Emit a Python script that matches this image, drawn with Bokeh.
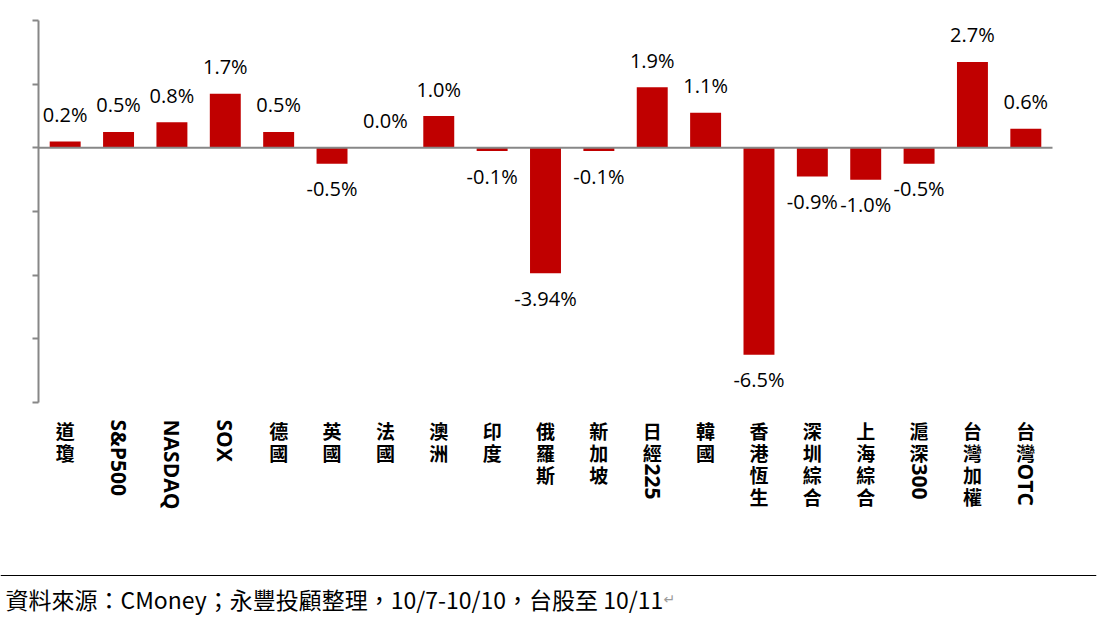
import math
from bokeh.plotting import figure
from bokeh.models import ColumnDataSource, FixedTicker, Range1d, Span
from bokeh.core.properties import value
from bokeh.embed import file_html
from bokeh.resources import INLINE

# Weekly index performance (%)
categories = ["道瓊", "S&P500", "NASDAQ", "SOX", "德國", "英國", "法國", "澳洲", "印度",
              "俄羅斯", "新加坡", "日經225", "韓國", "香港恆生", "深圳綜合", "上海綜合",
              "滬深300", "台灣加權", "台灣OTC"]
weekly_change = [0.2, 0.5, 0.8, 1.7, 0.5, -0.5, 0.0, 1.0, -0.1,
                 -3.94, -0.1, 1.9, 1.1, -6.5, -0.9, -1.0,
                 -0.5, 2.7, 0.6]
y_ticks = [-8, -6, -4, -2, 0, 2, 4]
source_note = "資料來源：CMoney；永豐投顧整理，10/7-10/10，台股至 10/11"

# ---- page geometry (pixels) ----
W, H = 1106, 629
RIGHT_PAD = 10
frame_w = W - RIGHT_PAD
left_px, right_px = 38, 1052      # category band extent
top_px, bottom_px = 20, 402       # value axis extent

n = len(categories)
ux = (right_px - left_px) / n
x_start = -0.5 - left_px / ux
x_end = x_start + frame_w / ux

ymax, ymin = max(y_ticks), min(y_ticks)
uy = (bottom_px - top_px) / (ymax - ymin)
y_end = ymax + top_px / uy
y_start = y_end - H / uy


def px_x(px):
    return x_start + px / ux


def px_y(py):
    return y_end - py / uy


RED = "#C00000"
GREY = "#878787"
CJK_FONT = "Noto Sans CJK TC"
NUM_FONT = "Open Sans"

p = figure(width=W, height=H, x_range=Range1d(x_start, x_end),
           y_range=Range1d(y_start, y_end), output_backend="svg",
           toolbar_location=None, min_border=0, min_border_right=RIGHT_PAD,
           x_axis_location=None, y_axis_location="right")
p.grid.visible = False
p.outline_line_color = None
p.background_fill_color = "white"
p.border_fill_color = "white"

# value axis: drawn at the left edge of the category band, unlabelled ticks pointing left
ax = p.yaxis[0]
ax.fixed_location = -0.5
ax.bounds = (ymin, ymax)
ax.ticker = FixedTicker(ticks=[], minor_ticks=y_ticks)
ax.major_tick_in = 0
ax.major_tick_out = 0
ax.minor_tick_in = 6
ax.minor_tick_out = 0
ax.axis_line_color = GREY
ax.axis_line_width = 2
ax.minor_tick_line_color = GREY
ax.minor_tick_line_width = 2

xs = list(range(n))
labels = [f"{v:.{1 if round(v, 1) == v else 2}f}%" for v in weekly_change]
src = ColumnDataSource(dict(x=xs, v=weekly_change, label=labels))

p.vbar(x="x", top="v", bottom=0, width=0.58, source=src,
       fill_color=RED, line_color=None)

# zero baseline
p.segment(x0=[-0.5], x1=[n - 0.5], y0=[0], y1=[0], line_color=GREY, line_width=2)

# value labels
pos = ColumnDataSource(dict(x=[x for x, v in zip(xs, weekly_change) if v >= 0],
                            y=[v for v in weekly_change if v >= 0],
                            t=[l for l, v in zip(labels, weekly_change) if v >= 0]))
neg = ColumnDataSource(dict(x=[x for x, v in zip(xs, weekly_change) if v < 0],
                            y=[v for v in weekly_change if v < 0],
                            t=[l for l, v in zip(labels, weekly_change) if v < 0]))
common = dict(text="t", text_align="center", text_baseline="alphabetic",
              text_font=value(NUM_FONT), text_font_size="20px", text_color="#000000")
p.text(x="x", y="y", source=pos, y_offset=-27, **common)
p.text(x="x", y="y", source=neg, y_offset=25, **common)

# category labels: CJK characters stacked upright, Latin runs rotated clockwise
cjk_x, cjk_y, cjk_t, cjk_off = [], [], [], []
lat_x, lat_y, lat_t, lat_off = [], [], [], []
STEP = 22
for i, name in enumerate(categories):
    k = 0
    j = 0
    while j < len(name):
        ch = name[j]
        if ord(ch) > 0x2E80:
            cjk_x.append(i)
            cjk_y.append(ymin)
            cjk_t.append(ch)
            cjk_off.append(28 + STEP * k)
            k += 1
            j += 1
        else:
            run = ""
            while j < len(name) and ord(name[j]) <= 0x2E80:
                run += name[j]
                j += 1
            lat_x.append(i)
            lat_y.append(ymin)
            lat_t.append(run)
            lat_off.append(17 + STEP * k)

p.text(x="x", y="y", text="t", y_offset="o",
       source=ColumnDataSource(dict(x=cjk_x, y=cjk_y, t=cjk_t, o=cjk_off)),
       text_align="center", text_baseline="middle", text_font=value(CJK_FONT),
       text_font_size="19px", text_font_style="bold", text_color="#000000")
p.text(x="x", y="y", text="t", y_offset="o", angle=-math.pi / 2,
       source=ColumnDataSource(dict(x=lat_x, y=lat_y, t=lat_t, o=lat_off)),
       text_align="left", text_baseline="middle", text_font=value(NUM_FONT),
       text_font_size="21px", text_font_style="bold", text_color="#000000")

# source note with rule above it
p.add_layout(Span(location=px_y(575), dimension="width", line_color="#000000", line_width=1))
p.text(x=[px_x(5)], y=[px_y(598)], text=[source_note], text_align="left",
       text_baseline="middle", text_font=value(CJK_FONT), text_font_size="23px",
       text_color="#000000")
p.text(x=[px_x(663)], y=[px_y(598)], text=["↵"], text_align="left",
       text_baseline="middle", text_font=value("DejaVu Sans"), text_font_size="14px",
       text_color="#9a9a9a")

open("out.html", "w").write(file_html(p, INLINE))
